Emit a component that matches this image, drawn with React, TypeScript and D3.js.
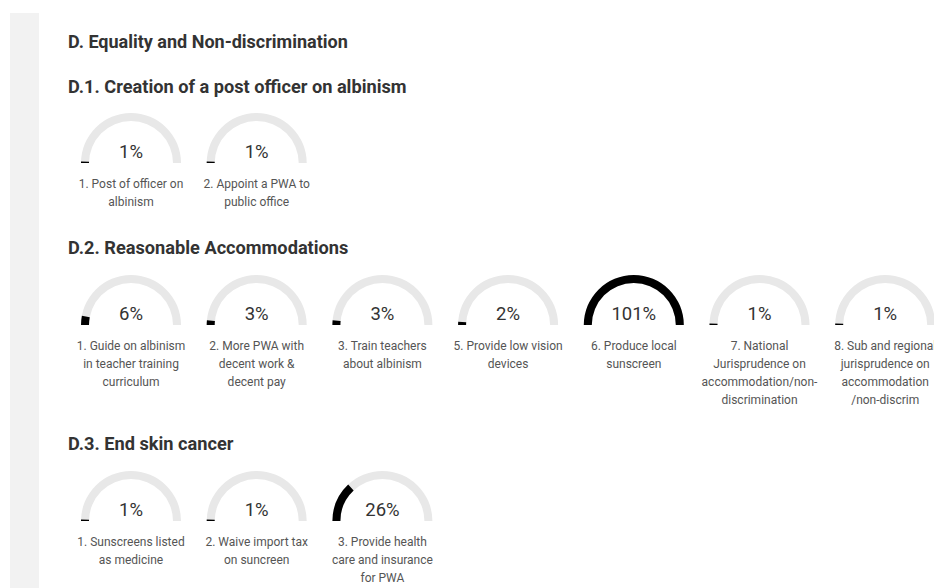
import { useMemo } from 'react';
import * as d3 from 'd3';

const pageTitle = 'D. Equality and Non-discrimination';

const sectionTitles = [
  'D.1. Creation of a post officer on albinism',
  'D.2. Reasonable Accommodations',
  'D.3. End skin cancer',
];

const d1Labels = [
  ['1. Post of officer on', 'albinism'],
  ['2. Appoint a PWA to', 'public office'],
];
const d1Values = [1, 1];

const d2Labels = [
  ['1. Guide on albinism', 'in teacher training', 'curriculum'],
  ['2. More PWA with', 'decent work &', 'decent pay'],
  ['3. Train teachers', 'about albinism'],
  ['5. Provide low vision', 'devices'],
  ['6. Produce local', 'sunscreen'],
  ['7. National', 'Jurisprudence on', 'accommodation/non-', 'discrimination'],
  ['8. Sub and regional', 'jurisprudence on', 'accommodation', '/non-discrim'],
];
const d2Values = [6, 3, 3, 2, 101, 1, 1];

const d3Labels = [
  ['1. Sunscreens listed', 'as medicine'],
  ['2. Waive import tax', 'on suncreen'],
  ['3. Provide health', 'care and insurance', 'for PWA'],
];
const d3Values = [1, 1, 26];

const WIDTH = 934;
const HEIGHT = 588;
const FONT = 'Roboto, "Noto Sans", sans-serif';

// layout of each section: heading baseline y, gauge baseline y
const sectionLayout = [
  { headY: 93, gaugeY: 163 },
  { headY: 254, gaugeY: 325 },
  { headY: 450, gaugeY: 521 },
];

function Gauge({ cx, cy, value, lines }: { cx: number; cy: number; value: number; lines: string[] }) {
  const outer = 50;
  const inner = 42;
  const scale = d3.scaleLinear().domain([0, 100]).range([-Math.PI / 2, Math.PI / 2]).clamp(true);
  const arc = d3.arc<{ start: number; end: number }>()
    .innerRadius(inner)
    .outerRadius(outer)
    .startAngle(d => d.start)
    .endAngle(d => d.end);

  const bg = arc({ start: -Math.PI / 2, end: Math.PI / 2 }) || '';
  const fg = arc({ start: -Math.PI / 2, end: scale(value) }) || '';

  return (
    <g transform={`translate(${cx},${cy})`}>
      <path d={bg} fill="#e8e8e8" />
      <path d={fg} fill="#000" />
      <text y={-5} textAnchor="middle" fontSize={18.5} fill="#333" fontFamily={FONT}>
        {value}%
      </text>
      {lines.map((l, i) => (
        <text key={i} y={25 + i * 18} textAnchor="middle" fontSize={12} fill="#555" fontFamily={FONT}>
          {l}
        </text>
      ))}
    </g>
  );
}

export default function App() {
  const x = useMemo(() => d3.scaleLinear().domain([0, 1]).range([131, 131 + 125.7]), []);

  const sections = [
    { labels: d1Labels, values: d1Values },
    { labels: d2Labels, values: d2Values },
    { labels: d3Labels, values: d3Values },
  ];

  return (
    <svg
      width={WIDTH}
      height={HEIGHT}
      style={{ position: 'absolute', left: 0, top: 0, background: '#fff' }}
    >
      <rect x={10} y={13} width={29} height={HEIGHT - 13} fill="#f2f2f2" />
      <text x={68} y={48} fontSize={18} fontWeight="bold" fill="#333" fontFamily={FONT}>
        {pageTitle}
      </text>
      {sections.map((s, si) => (
        <g key={si}>
          <text x={68} y={sectionLayout[si].headY} fontSize={18.2} fontWeight="bold" fill="#333" fontFamily={FONT}>
            {sectionTitles[si]}
          </text>
          {s.values.map((v, i) => (
            <Gauge key={i} cx={x(i)} cy={sectionLayout[si].gaugeY} value={v} lines={s.labels[i]} />
          ))}
        </g>
      ))}
    </svg>
  );
}
